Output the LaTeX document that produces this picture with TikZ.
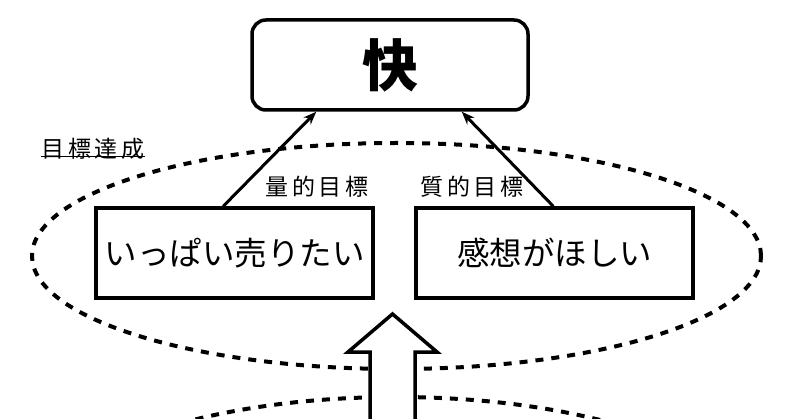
\documentclass[tikz,border=0pt]{standalone}
\usepackage{fontspec}
\newfontfamily\jp{Noto Sans CJK JP}
\usetikzlibrary{arrows.meta,shapes.geometric}
\tikzset{
  box/.style={draw, line width=3.5pt, minimum width=277pt, minimum height=90pt, inner sep=0pt, font=\jp\fontsize{32.5}{32.5}\selectfont},
  goalring/.style={draw, ellipse, dash pattern=on 8pt off 8pt, line width=4pt, inner sep=0pt},
  lbl/.style={inner sep=0pt, font=\jp\fontsize{23}{23}\selectfont},
  conn/.style={line width=3pt, -{Stealth[length=13pt,width=10pt]}}
}
\begin{document}
\begin{tikzpicture}[x=1pt,y=-1pt]
\useasboundingbox (0,0) rectangle (800,419);
\clip (0,0) rectangle (800,419);
\fill[white] (0,0) rectangle (800,419);
% rings
\node[goalring, minimum width=729pt, minimum height=226pt] (goal) at (396.5,256) {};
\node[goalring, minimum width=729pt, minimum height=270pt] (base) at (396.5,532) {};
% block arrow
\draw[line width=3.5pt, fill=white, line join=miter] (370,430) -- (370,352) -- (348,352) -- (392.5,314) -- (437,352) -- (415,352) -- (415,430);
% boxes
\node[box, rounded corners=14pt, minimum width=276pt, font=\jp\bfseries\fontsize{56}{56}\selectfont] (top) at (390,65) {快};
\node[box] (left) at (234.5,253) {いっぱい売りたい};
\node[box] (right) at (554.5,253) {感想がほしい};
% labels
\node[lbl] (quant) at (317,187) {量\,的\,目\,標};
\node[lbl] (qual) at (472,187) {質\,的\,目\,標};
\node[lbl] (goallbl) at (93,149) {目\,標\,達\,成};
\draw[line width=1.2pt] ([yshift=3pt]goallbl.south west) -- ([yshift=3pt]goallbl.south east);
% connectors
\draw[conn] ([xshift=129pt]left.north west) -- ([xshift=66pt]top.south west);
\draw[conn] ([xshift=139pt]right.north west) -- ([xshift=-68pt]top.south east);
\end{tikzpicture}
\end{document}
